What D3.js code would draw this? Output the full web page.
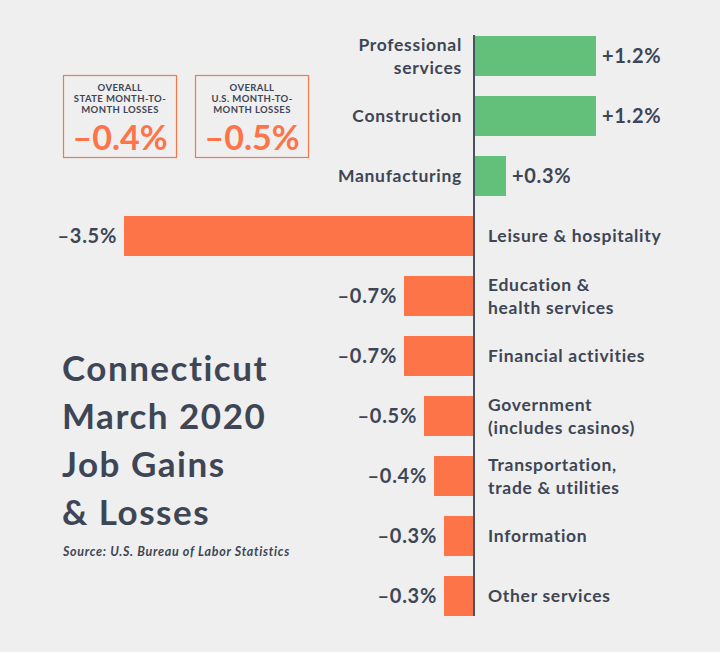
<!DOCTYPE html>
<html>
<head>
<meta charset="utf-8">
<script src="https://cdn.jsdelivr.net/npm/d3@7"></script>
<style>
  html, body { margin: 0; padding: 0; background: #efefef; }
  svg { display: block; }
  text { font-family: Lato, "Open Sans", sans-serif; }
</style>
</head>
<body>
<svg id="chart" width="720" height="652"></svg>
<script>
// ---- data ----
const categories = [
  ["Professional", "services"],
  ["Construction"],
  ["Manufacturing"],
  ["Leisure & hospitality"],
  ["Education &", "health services"],
  ["Financial activities"],
  ["Government", "(includes casinos)"],
  ["Transportation,", "trade & utilities"],
  ["Information"],
  ["Other services"]
];
const changes = [1.2, 1.2, 0.3, -3.5, -0.7, -0.7, -0.5, -0.4, -0.3, -0.3];
const valueLabels = ["+1.2%", "+1.2%", "+0.3%", "-3.5%", "-0.7%", "-0.7%", "-0.5%", "-0.4%", "-0.3%", "-0.3%"];
const summaryTitles = [["OVERALL", "STATE MONTH-TO-", "MONTH LOSSES"], ["OVERALL", "U.S. MONTH-TO-", "MONTH LOSSES"]];
const summaryValues = ["-0.4%", "-0.5%"];
const titleLines = ["Connecticut", "March 2020", "Job Gains", "& Losses"];
const sourceText = "Source: U.S. Bureau of Labor Statistics";

const dark = "#3e4655";
const green = "#63c07a";
const orange = "#fd7449";

const svg = d3.select("#chart");
svg.append("rect").attr("width", 720).attr("height", 652).attr("fill", "#efefef");

const x = d3.scaleLinear().domain([-3.5, 1.2]).range([124, 594]);
const y = d3.scaleBand().domain(d3.range(changes.length)).range([36, 616]).paddingInner(1/3).paddingOuter(0);
// band = 40, step = 60

const g = svg.append("g");

// bars
g.selectAll("rect.bar").data(changes).join("rect")
  .attr("class", "bar")
  .attr("x", d => d >= 0 ? x(0) + 1 : x(d))
  .attr("y", (d, i) => y(i))
  .attr("width", d => d >= 0 ? x(d) - x(0) + 1 : x(0) - x(d))
  .attr("height", y.bandwidth())
  .attr("fill", d => d >= 0 ? green : orange);

// axis line
g.append("line")
  .attr("x1", x(0)).attr("x2", x(0))
  .attr("y1", 35).attr("y2", 616)
  .attr("stroke", "#4a5260").attr("stroke-width", 2);

// value labels
g.selectAll("text.val").data(changes).join("text")
  .attr("class", "val")
  .attr("x", d => d >= 0 ? x(d) + 8 : x(d) - 7)
  .attr("y", (d, i) => y(i) + y.bandwidth() / 2)
  .attr("dy", "0.36em")
  .attr("text-anchor", d => d >= 0 ? "start" : "end")
  .attr("font-size", 20)
  .attr("font-weight", 700)
  .attr("letter-spacing", 0.7)
  .attr("fill", dark)
  .text((d, i) => valueLabels[i].replace("-", "\u2013"));

// category labels
const cat = g.selectAll("text.cat").data(changes).join("text")
  .attr("class", "cat")
  .attr("text-anchor", d => d >= 0 ? "end" : "start")
  .attr("font-size", 17.5)
  .attr("font-weight", 700)
  .attr("letter-spacing", 0.7)
  .attr("fill", dark);
cat.each(function(d, i) {
  const lines = categories[i];
  const cy = y(i) + y.bandwidth() / 2;
  const lh = 23;
  lines.forEach((ln, k) => {
    d3.select(this).append("tspan")
      .attr("x", d >= 0 ? x(0) - 12 : x(0) + 14)
      .attr("y", cy + (k - (lines.length - 1) / 2) * lh)
      .attr("dy", "0.36em")
      .text(ln);
  });
});

// summary boxes
const boxX = [63.5, 195.5];
summaryValues.forEach((v, i) => {
  const bg = svg.append("g").attr("transform", `translate(${boxX[i]},75.5)`);
  bg.append("rect").attr("width", 113).attr("height", 82)
    .attr("fill", "none").attr("stroke", orange).attr("stroke-width", 1.2);
  summaryTitles[i].forEach((t, k) => {
    bg.append("text").attr("x", 56.5).attr("y", 12 + k * 11).attr("dy", "0.36em")
      .attr("text-anchor", "middle").attr("font-size", 9.5).attr("font-weight", 700)
      .attr("letter-spacing", 0.4)
      .attr("fill", dark).text(t);
  });
  bg.append("text").attr("x", 56.5).attr("y", 62).attr("dy", "0.36em")
    .attr("text-anchor", "middle").attr("font-size", 34).attr("font-weight", 700)
    .attr("fill", orange).text(v.replace("-", "\u2013"));
});

// title
titleLines.forEach((t, k) => {
  svg.append("text").attr("x", 62).attr("y", 368 + k * 48).attr("dy", "0.36em")
    .attr("font-size", 35).attr("font-weight", 700).attr("letter-spacing", 1.5)
    .attr("fill", dark).text(t);
});
svg.append("text").attr("x", 63).attr("y", 551).attr("dy", "0.36em")
  .attr("font-size", 12.5).attr("font-style", "italic").attr("font-weight", 700)
  .attr("letter-spacing", 0.7)
  .attr("fill", dark).text(sourceText);
</script>
</body>
</html>
